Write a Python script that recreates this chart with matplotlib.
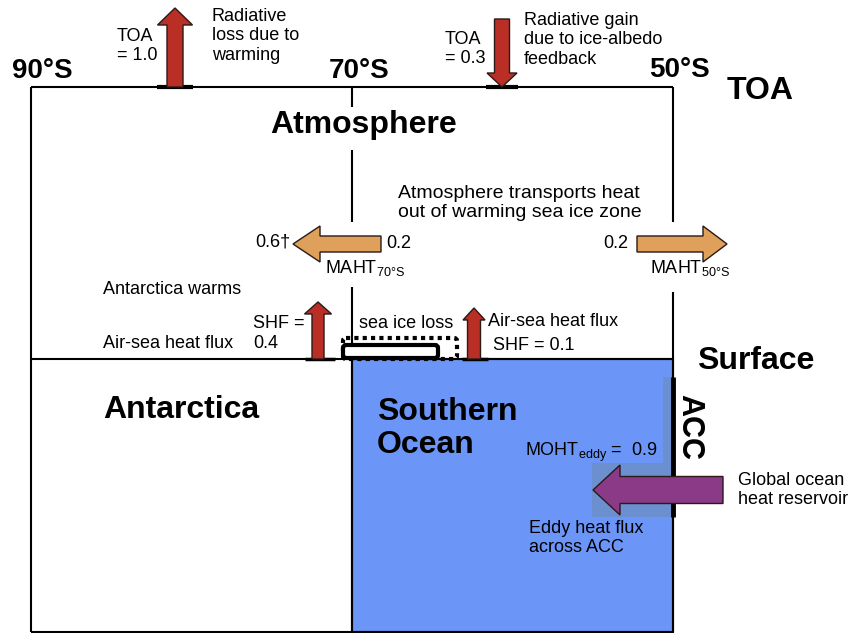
import matplotlib.pyplot as plt
from matplotlib.patches import FancyArrow, Rectangle, Polygon, FancyBboxPatch

plt.rcParams['font.family'] = ['Liberation Sans', 'DejaVu Sans']

# heat budget terms as printed on the schematic
toa_loss = 1.0        # radiative loss, 90S-70S
toa_gain = 0.3        # ice-albedo gain, 70S-50S
maht_70s = 0.2
maht_70s_total = '0.6†'
maht_50s = 0.2
shf_antarctica = 0.4
shf_ocean = 0.1
moht_eddy = 0.9

lat_labels = ['90°S', '70°S', '50°S']
region_labels = ['Atmosphere', 'Antarctica', 'Southern\nOcean']
level_labels = ['TOA', 'Surface', 'ACC']

RED = '#b92f25'
ORANGE = '#dea05a'
PURPLE = '#8a3a87'
BLUE = '#6b96f7'
BLUE_DK = '#6c8fd0'
SMALL = 13


def line(x0, y0, x1, y1, lw=1.5, **kw):
    ax.plot([x0, x1], [y0, y1], color='black', lw=lw, solid_capstyle='butt', **kw)


def arrow(x, y, dx, dy, w, hw, hl, fc):
    ax.add_patch(FancyArrow(x, y, dx, dy, width=w, head_width=hw, head_length=hl,
                            length_includes_head=True, fc=fc, ec='#2a1a18', lw=1.0, zorder=5))


fig = plt.figure(figsize=(8.53, 6.33), dpi=100)
ax = fig.add_axes([0, 0, 1, 1])
ax.set_xlim(0, 853)
ax.set_ylim(633, 0)
ax.axis('off')

# ocean box + eddy region shading
ax.add_patch(Rectangle((352, 359), 321, 273, fc=BLUE, ec='black', lw=1.5, zorder=1))
ax.add_patch(Polygon([(663, 377), (673, 377), (673, 517), (592, 517), (592, 463), (663, 463)],
                     closed=True, fc=BLUE_DK, ec='none', zorder=2))

# frame
line(31, 87, 673, 87)
line(31, 87, 31, 632)
line(31, 632, 673, 632)
line(31, 359, 673, 359)
line(673, 87, 673, 222)
line(673, 292, 673, 632)
line(352, 87, 352, 107)
line(352, 150, 352, 222)
line(352, 287, 352, 632)
line(673, 377, 673, 517, lw=3.5)

# arrow roots
line(157, 87, 193, 87, lw=3)
line(486, 87, 518, 87, lw=3)
line(305, 359, 335, 359, lw=2.5)
line(462, 359, 488, 359, lw=2.5)

# sea ice: present-day extent (solid) and former extent (dotted)
ax.add_patch(FancyBboxPatch((343, 338), 114, 21, boxstyle='round,pad=0,rounding_size=3',
                            fc='none', ec='black', lw=3, ls=(0, (1, 1)), zorder=3))
ax.add_patch(FancyBboxPatch((343, 345), 95, 13, boxstyle='round,pad=0,rounding_size=3',
                            fc='white', ec='black', lw=3, zorder=4))

# radiative arrows
arrow(175, 87, 0, -79, 16, 35, 17, RED)
arrow(502, 19, 0, 68, 15, 30, 14, RED)
# surface heat flux arrows
arrow(318, 359, 0, -57, 12, 27, 12, RED)
arrow(474, 359, 0, -51, 13, 22, 12, RED)
# atmospheric transport
arrow(381, 244, -88, 0, 16, 36, 27, ORANGE)
arrow(637, 244, 90, 0, 16, 36, 24, ORANGE)
# ocean eddy transport
arrow(723, 490, -130, 0, 27, 50, 27, PURPLE)

# bold labels
bold = dict(fontweight='bold', color='black')
ax.text(12, 78, lat_labels[0], fontsize=20, ha='left', va='baseline', **bold)
ax.text(359, 78, lat_labels[1], fontsize=20, ha='center', va='baseline', **bold)
ax.text(680, 77, lat_labels[2], fontsize=20, ha='center', va='baseline', **bold)
ax.text(727, 99, level_labels[0], fontsize=23, ha='left', va='baseline', **bold)
ax.text(364, 133, region_labels[0], fontsize=23, ha='center', va='baseline', **bold)
ax.text(103, 418, region_labels[1], fontsize=23, ha='left', va='baseline', **bold)
ax.text(377, 453, region_labels[2], fontsize=23, ha='left', va='baseline',
        linespacing=1.15, zorder=6, **bold)
ax.text(756, 369, level_labels[1], fontsize=23, ha='center', va='baseline', **bold)
ax.text(689, 427, level_labels[2], fontsize=22, ha='center', va='center', rotation=-90, **bold)

# small annotations
ax.text(117, 46, f'TOA\n= {toa_loss:.1f}', fontsize=SMALL, va='center', linespacing=1.1)
ax.text(212, 36, 'Radiative\nloss due to\nwarming', fontsize=SMALL, va='center', linespacing=1.2)
ax.text(445, 49, f'TOA\n= {toa_gain:.1f}', fontsize=SMALL, va='center', linespacing=1.15)
ax.text(524, 40, 'Radiative gain\ndue to ice-albedo\nfeedback', fontsize=SMALL, va='center',
        linespacing=1.2)
ax.text(398, 203, 'Atmosphere transports heat\nout of warming sea ice zone', fontsize=14,
        va='center', linespacing=1.15)
ax.text(290, 242, maht_70s_total, fontsize=SMALL, ha='right', va='center')
ax.text(386, 243, f'{maht_70s:.1f}', fontsize=SMALL, ha='left', va='center')
ax.text(325, 268, r'MAHT$_{\mathregular{70°S}}$', fontsize=SMALL, va='center')
ax.text(628, 243, f'{maht_50s:.1f}', fontsize=SMALL, ha='right', va='center')
ax.text(650, 268, r'MAHT$_{\mathregular{50°S}}$', fontsize=SMALL, va='center')
ax.text(103, 290, 'Antarctica warms', fontsize=SMALL, va='center')
ax.text(103, 343, 'Air-sea heat flux', fontsize=SMALL, va='center')
ax.text(253, 323, 'SHF =', fontsize=SMALL, va='center')
ax.text(253, 344, f'{shf_antarctica:.1f}', fontsize=SMALL, va='center')
ax.text(359, 323, 'sea ice loss', fontsize=SMALL, va='center')
ax.text(488, 322, 'Air-sea heat flux', fontsize=SMALL, va='center')
ax.text(493, 345, f'SHF = {shf_ocean:.1f}', fontsize=SMALL, va='center')
ax.text(525, 452, r'MOHT$_{\mathregular{eddy}}$ =  ' + f'{moht_eddy:.1f}', fontsize=SMALL,
        va='center', zorder=6)
ax.text(529, 538, 'Eddy heat flux\nacross ACC', fontsize=SMALL, va='center', linespacing=1.15,
        zorder=6)
ax.text(738, 490, 'Global ocean\nheat reservoir', fontsize=SMALL, va='center', linespacing=1.15)

fig.savefig('out.png', dpi=100)
